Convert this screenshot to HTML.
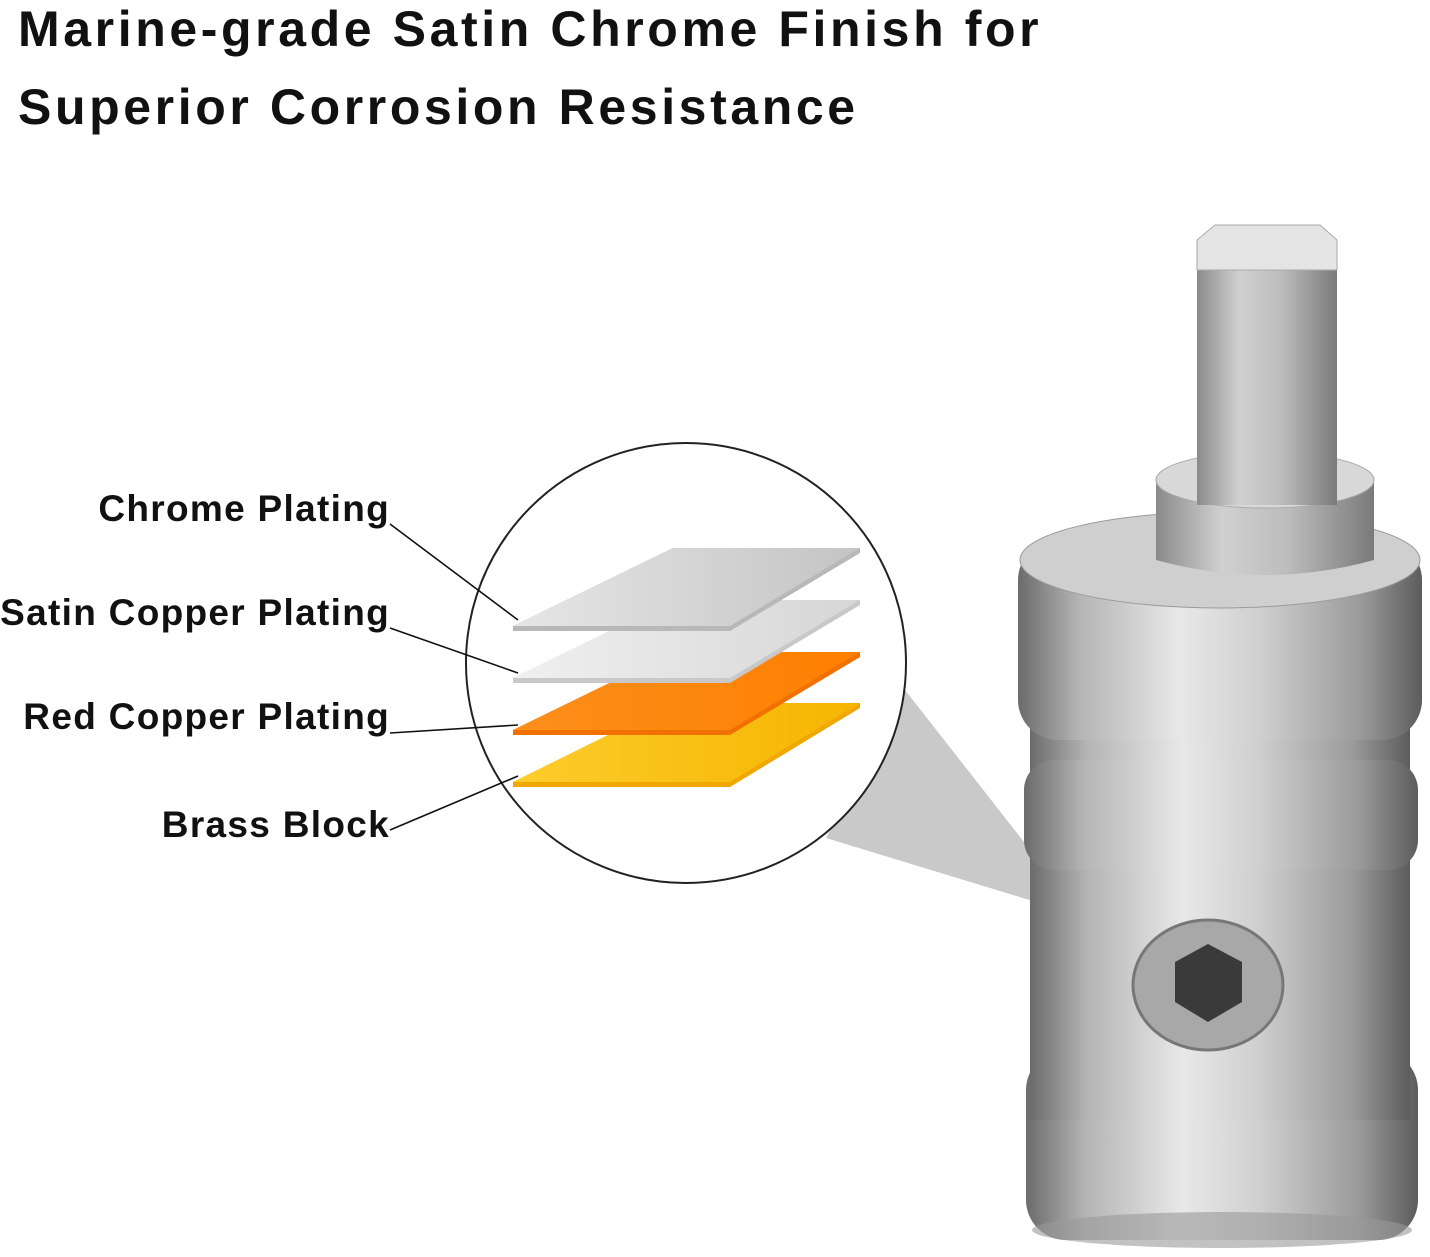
<!DOCTYPE html>
<html><head><meta charset="utf-8"><style>
html,body{margin:0;padding:0;background:#fff;}
body{width:1430px;height:1257px;position:relative;overflow:hidden;font-family:"Liberation Sans","DejaVu Sans",sans-serif;}
.t{position:absolute;left:18px;font-size:50px;font-weight:bold;color:#111;letter-spacing:3.6px;white-space:nowrap;}
.l{position:absolute;right:1040px;font-size:37px;color:#111;white-space:nowrap;font-weight:bold;letter-spacing:1.3px;}
</style></head><body>
<div class="t" style="top:0px">Marine-grade Satin Chrome Finish for</div>
<div class="t" style="top:78px">Superior Corrosion Resistance</div>
<div class="l" style="top:488px">Chrome Plating</div>
<div class="l" style="top:592px">Satin Copper Plating</div>
<div class="l" style="top:696px">Red Copper Plating</div>
<div class="l" style="top:804px">Brass Block</div>
<svg width="1430" height="1257" style="position:absolute;left:0;top:0">
<defs>
<linearGradient id="g1" x1="0" x2="1"><stop offset="0" stop-color="#e6e6e6"/><stop offset="1" stop-color="#c4c4c4"/></linearGradient>
<linearGradient id="g2" x1="0" x2="1"><stop offset="0" stop-color="#f0f0f0"/><stop offset="1" stop-color="#d6d6d6"/></linearGradient>
<linearGradient id="g3" x1="0" x2="1"><stop offset="0" stop-color="#fb8f1c"/><stop offset="1" stop-color="#ff7f00"/></linearGradient>
<linearGradient id="g4" x1="0" x2="1"><stop offset="0" stop-color="#fccd2c"/><stop offset="1" stop-color="#f6b400"/></linearGradient>
<linearGradient id="m" x1="0" x2="1"><stop offset="0" stop-color="#6b6b6b"/><stop offset="0.15" stop-color="#b4b4b4"/><stop offset="0.4" stop-color="#e8e8e8"/><stop offset="0.6" stop-color="#cfcfcf"/><stop offset="0.85" stop-color="#9a9a9a"/><stop offset="1" stop-color="#5c5c5c"/></linearGradient>
<linearGradient id="s" x1="0" x2="1"><stop offset="0" stop-color="#8a8a8a"/><stop offset="0.3" stop-color="#d0d0d0"/><stop offset="0.6" stop-color="#bdbdbd"/><stop offset="1" stop-color="#7a7a7a"/></linearGradient>
</defs>
<polygon points="826,838 905,690 1082,916" fill="#c9c9c9"/>
<circle cx="686" cy="663" r="220" fill="#fff" stroke="#222" stroke-width="2"/>
<g>
<polygon points="673,703 860,703 860,708 730,787 513,787 513,782" fill="#f0a800"/>
<polygon points="673,703 860,703 730,782 513,782" fill="url(#g4)"/>
<polygon points="673,652 860,652 860,657 730,735 513,735 513,730" fill="#f07000"/>
<polygon points="673,652 860,652 730,730 513,730" fill="url(#g3)"/>
<polygon points="673,600 860,600 860,605 730,683 513,683 513,678" fill="#c8c8c8"/>
<polygon points="673,600 860,600 730,678 513,678" fill="url(#g2)"/>
<polygon points="673,548 860,548 860,553 730,631 513,631 513,626" fill="#b8b8b8"/>
<polygon points="673,548 860,548 730,626 513,626" fill="url(#g1)"/>
</g>
<g stroke="#111" stroke-width="1.6" fill="none">
<polyline points="390,524 518,620"/>
<polyline points="390,628 518,673"/>
<polyline points="390,733 518,725"/>
<polyline points="390,830 518,776"/>
</g>
<rect x="1026" y="1050" width="392" height="190" rx="40" fill="url(#m)"/>
<rect x="1030" y="720" width="380" height="400" fill="url(#m)"/>
<rect x="1018" y="540" width="404" height="200" rx="40" fill="url(#m)"/>
<ellipse cx="1220" cy="560" rx="200" ry="48" fill="#cfcfcf" stroke="#9a9a9a"/>
<rect x="1024" y="760" width="394" height="110" rx="30" fill="url(#m)"/>
<path d="M1156 480 L1156 560 Q1265 590 1374 560 L1374 480 Z" fill="url(#s)"/>
<ellipse cx="1265" cy="480" rx="109" ry="28" fill="#d8d8d8" stroke="#aaa"/>
<rect x="1197" y="240" width="140" height="265" fill="url(#s)"/>
<path d="M1197 240 L1215 225 L1320 225 L1337 240 L1337 270 L1197 270 Z" fill="#e4e4e4" stroke="#aaa"/>
<ellipse cx="1208" cy="985" rx="75" ry="65" fill="#a8a8a8" stroke="#777" stroke-width="3"/>
<polygon points="1175,962 1208,944 1242,962 1242,1002 1208,1022 1175,1002" fill="#3a3a3a"/>
<ellipse cx="1222" cy="1230" rx="190" ry="18" fill="#999" opacity="0.6"/>
</svg>
</body></html>
